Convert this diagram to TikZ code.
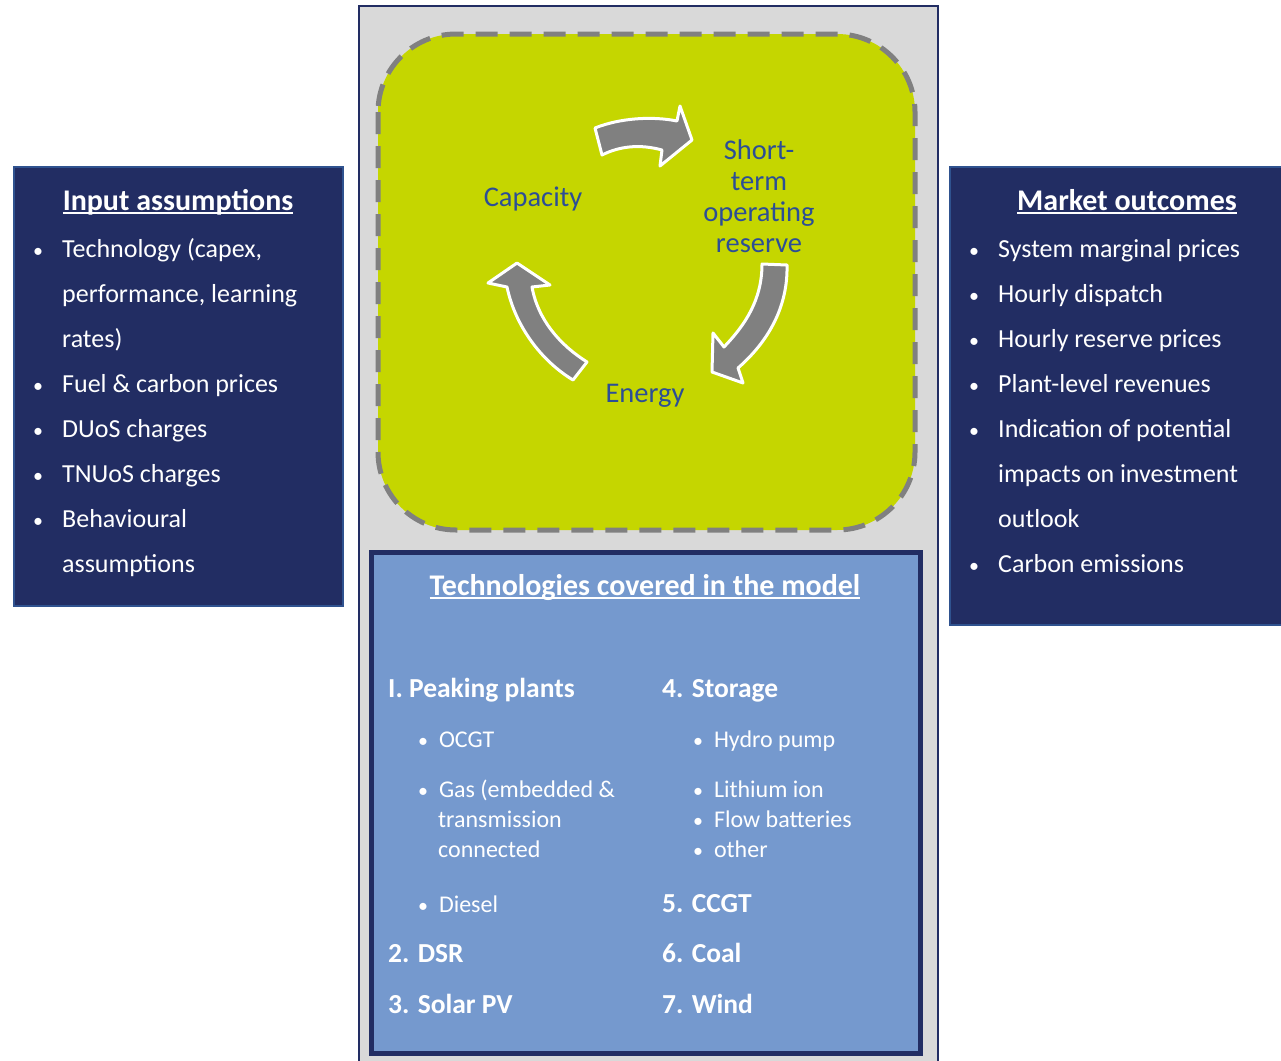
\documentclass[tikz,border=0pt]{standalone}
\usepackage{fontspec}
\setmainfont{Carlito}
\definecolor{navy}{RGB}{34,45,99}
\definecolor{navyedge}{RGB}{47,82,143}
\definecolor{techblue}{RGB}{117,153,206}
\definecolor{lime}{RGB}{197,214,0}
\definecolor{panelgray}{RGB}{217,217,217}
\definecolor{dashgray}{RGB}{128,128,128}
\definecolor{cycleblue}{RGB}{44,78,150}
\newcommand\myul[1]{{\setbox0\hbox{#1}\rlap{\rule[-3.5pt]{\wd0}{1.4pt}}\box0}}
\newcommand\smallbul{{\fontsize{20}{20}\selectfont\textbullet}}
\begin{document}
\begin{tikzpicture}[x=1pt,y=-1pt,
  body/.style={font=\fontsize{26}{31}\selectfont, inner sep=0pt, anchor=base west, text=white},
  head/.style={font=\fontsize{30}{34}\selectfont\bfseries, inner sep=0pt, anchor=base, text=white},
  tech/.style={font=\fontsize{24}{30}\selectfont, inner sep=0pt, anchor=base west, text=white},
  techb/.style={font=\fontsize{27.5}{30}\selectfont\bfseries, inner sep=0pt, anchor=base west, text=white},
  cyc/.style={font=\fontsize{28.5}{31}\selectfont, inner sep=0pt, anchor=base, text=cycleblue, align=center},
  blockarrow/.style={fill=dashgray, draw=white, line width=3pt, line join=round}]
\useasboundingbox (0,0) rectangle (1281,1060);
\fill[white] (0,0) rectangle (1281,1060);

% central panel
\draw[fill=panelgray, draw=navy, line width=1.5pt] (359,6) rectangle (938,1070);
\draw[fill=lime, draw=dashgray, line width=5pt, dash pattern=on 22pt off 12pt, rounded corners=78pt] (378,34) rectangle (915,530);

% cycle texts
\node[cyc] (cap) at (533,206) {Capacity};
\node[cyc, anchor=north] (stor) at (759,140) {Short-\\term\\operating\\reserve};
\node[cyc] (ene) at (645,402) {Energy};

% block arrows
\draw[blockarrow] (595,128) .. controls (620,118) and (652,116) .. (677,121) -- (680,106) -- (692,140) -- (660,166) -- (662,150) .. controls (640,144) and (620,146) .. (602,155) -- cycle;
\draw[blockarrow] (762,264) -- (787,265) .. controls (788,305) and (770,340) .. (738,368) -- (743,383) -- (712,372) -- (713,333) -- (724,347) .. controls (745,325) and (762,300) .. (762,264) -- cycle;
\draw[blockarrow] (517,263) -- (550,285) -- (532,287) .. controls (538,320) and (560,345) .. (587,362) -- (573,380) .. controls (540,360) and (515,325) .. (507,287) -- (488,283) -- cycle;

% technologies box
\draw[fill=techblue, draw=navy, line width=5pt] (371,552) rectangle (920,1053);
\node[head] (tt) at (645,595) {\myul{Technologies covered in the model}};
\node[techb] (t1) at (388,697) {I. Peaking plants};
\node[tech] (t1a) at (418,747) {\smallbul\ \ OCGT};
\node[tech] (t1b) at (418,797) {\smallbul\ \ Gas (embedded \&};
\node[tech] (t1c) at (438,827) {transmission};
\node[tech] (t1d) at (438,857) {connected};
\node[tech] (t1e) at (418,912) {\smallbul\ \ Diesel};
\node[techb] (t2) at (388,962) {2. DSR};
\node[techb] (t3) at (388,1013) {3. Solar PV};
\node[techb] (t4) at (662,697) {4. Storage};
\node[tech] (t4a) at (693,747) {\smallbul\ \ Hydro pump};
\node[tech] (t4b) at (693,797) {\smallbul\ \ Lithium ion};
\node[tech] (t4c) at (693,827) {\smallbul\ \ Flow batteries};
\node[tech] (t4d) at (693,857) {\smallbul\ \ other};
\node[techb] (t5) at (662,912) {5. CCGT};
\node[techb] (t6) at (662,962) {6. Coal};
\node[techb] (t7) at (662,1013) {7. Wind};

% input assumptions
\draw[fill=navy, draw=navyedge, line width=1.5pt] (14,167) rectangle (343,606);
\node[head] (inh) at (178,210) {\myul{Input assumptions}};
\foreach \y/\t [count=\i] in {257/{Technology (capex,}, 392/{Fuel \& carbon prices}, 437/{DUoS charges}, 482/{TNUoS charges}, 527/{Behavioural}}
  \node[body] (in\i) at (33,\y) {\rlap{\smallbul}\hspace{29pt}\t};
\node[body] (in6) at (62,302) {performance, learning};
\node[body] (in7) at (62,347) {rates)};
\node[body] (in8) at (62,572) {assumptions};

% market outcomes
\draw[fill=navy, draw=navyedge, line width=1.5pt] (950,167) rectangle (1290,625);
\node[head] (mh) at (1127,210) {\myul{Market outcomes}};
\foreach \y/\t [count=\i] in {257/{System marginal prices}, 302/{Hourly dispatch}, 347/{Hourly reserve prices}, 392/{Plant-level revenues}, 437/{Indication of potential}, 572/{Carbon emissions}}
  \node[body] (mo\i) at (969,\y) {\rlap{\smallbul}\hspace{29pt}\t};
\node[body] (mo7) at (998,482) {impacts on investment};
\node[body] (mo8) at (998,527) {outlook};
\end{tikzpicture}
\end{document}
